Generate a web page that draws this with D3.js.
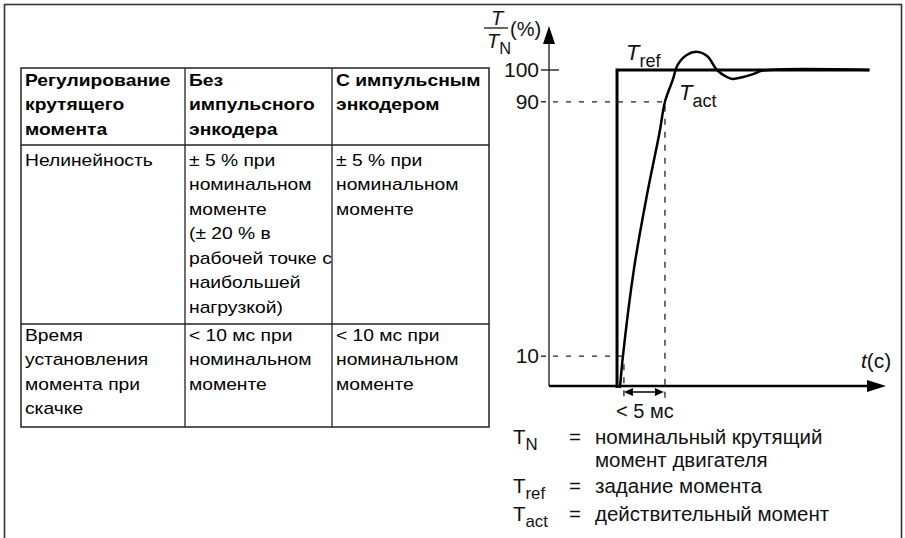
<!DOCTYPE html>
<html><head><meta charset="utf-8">
<script src="https://cdn.jsdelivr.net/npm/d3@7"></script>
<style>html,body{margin:0;padding:0;background:#fff;}svg{display:block;font-family:"Liberation Sans",Arial,sans-serif;}</style>
</head><body>
<script>
// ---- table data ----
const tableColumns = ["col1", "col2", "col3"];
const headerLines = [["Регулирование","крутящего","момента"],["Без","импульсного","энкодера"],["С импульсным","энкодером"]];
const row1Lines = [["Нелинейность"],["± 5 % при","номинальном","моменте","(± 20 % в","рабочей точке с","наибольшей","нагрузкой)"],["± 5 % при","номинальном","моменте"]];
const row2Lines = [["Время","установления","момента при","скачке"],["< 10 мс при","номинальном","моменте"],["< 10 мс при","номинальном","моменте"]];

// ---- chart data ----
const yTickValues = [10, 90, 100];
const yTickLabels = ["10", "90", "100"];
const trefTime = [8.3, 8.3, 39.1];
const trefValue = [0, 100, 100];
const tactTime = [8.66, 9.02, 10.4, 11.9, 13.5, 14.15, 15.1, 15.7, 16.8, 18.05, 19.3, 20.5, 21.7, 22.4, 23.7, 24.9, 26.1, 39.1];
const tactValue = [0, 10, 38, 60, 80.5, 90, 96.9, 101.6, 104.7, 105.7, 104.4, 100, 97.8, 97.2, 97.8, 98.7, 99.8, 100];
const t10 = 9.02, t90 = 14.15;
const settleLabel = "< 5 мс";
const legendItems = [
  {sym: "T", sub: "N", lines: ["номинальный крутящий", "момент двигателя"]},
  {sym: "T", sub: "ref", lines: ["задание момента"]},
  {sym: "T", sub: "act", lines: ["действительный момент"]}
];

const W = 905, H = 538;
const svg = d3.select("body").append("svg").attr("width", W).attr("height", H);

// outer frame
svg.append("rect").attr("x", 4.5).attr("y", 4.5).attr("width", 897).attr("height", 560)
  .attr("fill", "none").attr("stroke", "#333").attr("stroke-width", 1.6);

// ---- table ----
const colX = [21, 185, 332, 489];
const rowY = [68, 145, 324, 427];
const firstBase = [86, 166, 341];
const lineH = 24.5;
const sx = 1.16;
const tg = svg.append("g");
tg.append("rect").attr("x", colX[0]).attr("y", rowY[0]).attr("width", colX[3]-colX[0]).attr("height", rowY[3]-rowY[0])
  .attr("fill", "none").attr("stroke", "#222").attr("stroke-width", 1.5);
[1,2].forEach(i => tg.append("line").attr("x1", colX[i]).attr("x2", colX[i]).attr("y1", rowY[0]).attr("y2", rowY[3]).attr("stroke", "#222").attr("stroke-width", 1.3));
[1,2].forEach(i => tg.append("line").attr("x1", colX[0]).attr("x2", colX[3]).attr("y1", rowY[i]).attr("y2", rowY[i]).attr("stroke", "#222").attr("stroke-width", 1.3));
[headerLines, row1Lines, row2Lines].forEach((row, ri) => {
  row.forEach((lines, ci) => {
    const g = tg.append("g").attr("transform", `translate(${colX[ci] + 4},0) scale(${sx},1)`);
    lines.forEach((ln, li) => {
      g.append("text").attr("x", 0).attr("y", firstBase[ri] + li * lineH)
        .attr("font-size", 16.6).attr("font-weight", ri === 0 ? "bold" : "normal")
        .attr("fill", "#000").text(ln);
    });
  });
});

// ---- chart ----
const x = d3.scaleLinear().domain([0, 41]).range([549, 885]);
const y = d3.scaleLinear().domain([0, 100]).range([388, 70]);
const cg = svg.append("g");
const axisY0 = 386;

function dl(x1, y1, x2, y2, da) {
  cg.append("line").attr("x1", x1).attr("y1", y1).attr("x2", x2).attr("y2", y2)
    .attr("stroke", "#222").attr("stroke-width", 1.3).attr("stroke-dasharray", da || "5,8");
}
dl(x(0) + 4, y(90), x(t90), y(90));
dl(x(0) + 4, y(10), x(t10), y(10));
dl(x(t90), y(90) + 4, x(t90), axisY0 + 12, "6,7");
dl(x(t10) + 1, y(10) + 8, x(t10) + 1, axisY0 + 12, "6,7");

// y axis
cg.append("line").attr("x1", x(0)).attr("x2", x(0)).attr("y1", axisY0).attr("y2", 40)
  .attr("stroke", "#333").attr("stroke-width", 1.5);
cg.append("path").attr("d", `M${x(0)},26 L${x(0)-6},44 L${x(0)+6},44 Z`).attr("fill", "#000");
// x axis
cg.append("line").attr("x1", x(0)).attr("x2", 870).attr("y1", axisY0).attr("y2", axisY0)
  .attr("stroke", "#000").attr("stroke-width", 2.5);
cg.append("path").attr("d", `M886,${axisY0} L867,${axisY0-6} L867,${axisY0+6} Z`).attr("fill", "#000");

// ticks
yTickValues.forEach((v, i) => {
  const big = v === 100;
  cg.append("line").attr("x1", x(0) - 8).attr("x2", big ? x(0) + 10 : x(0) - 3)
    .attr("y1", y(v)).attr("y2", y(v)).attr("stroke", "#222").attr("stroke-width", 1.4);
  cg.append("text").attr("x", x(0) - 10).attr("y", y(v) + 7).attr("text-anchor", "end")
    .attr("font-size", 21).attr("fill", "#111").text(yTickLabels[i]);
});

// Tref
const line = d3.line().x(d => x(d[0])).y(d => y(d[1]));
cg.append("path").attr("d", line(trefTime.map((t, i) => [t, trefValue[i]])))
  .attr("fill", "none").attr("stroke", "#000").attr("stroke-width", 3).attr("stroke-linejoin", "miter");
// Tact
const curve = d3.line().x(d => x(d[0])).y(d => y(d[1])).curve(d3.curveCatmullRom.alpha(0.5));
cg.append("path").attr("d", curve(tactTime.map((t, i) => [t, tactValue[i]])))
  .attr("fill", "none").attr("stroke", "#000").attr("stroke-width", 2.5);

// double arrow
const ay = 392;
cg.append("line").attr("x1", x(t10) + 4).attr("x2", x(t90) - 4).attr("y1", ay).attr("y2", ay).attr("stroke", "#000").attr("stroke-width", 1.4);
cg.append("path").attr("d", `M${x(t10)+1},${ay} L${x(t10)+10},${ay-4} L${x(t10)+10},${ay+4} Z`).attr("fill", "#000");
cg.append("path").attr("d", `M${x(t90)-1},${ay} L${x(t90)-10},${ay-4} L${x(t90)-10},${ay+4} Z`).attr("fill", "#000");
cg.append("text").attr("x", (x(t10) + x(t90)) / 2 + 1).attr("y", 418).attr("text-anchor", "middle")
  .attr("font-size", 20).attr("fill", "#111").text(settleLabel);

// curve labels
function subLabel(xx, yy, main, sub, size, italic) {
  const t = cg.append("text").attr("x", xx).attr("y", yy).attr("font-size", size).attr("fill", "#111");
  t.append("tspan").attr("font-style", italic ? "italic" : "normal").text(main);
  t.append("tspan").attr("font-size", size * 0.82).attr("dy", size * 0.3).text(sub);
  return t;
}
subLabel(626, 60, "T", "ref", 22, true);
subLabel(679, 100, "T", "act", 22, true);

// y label fraction
cg.append("text").attr("x", 497).attr("y", 25).attr("text-anchor", "middle").attr("font-size", 20).attr("font-style", "italic").attr("fill", "#111").text("T");
cg.append("line").attr("x1", 484).attr("x2", 508).attr("y1", 28).attr("y2", 28).attr("stroke", "#111").attr("stroke-width", 1.3);
subLabel(487, 48, "T", "N", 20, true);
cg.append("text").attr("x", 510).attr("y", 36).attr("font-size", 20).attr("fill", "#111").text("(%)");

// t(c)
const tl = cg.append("text").attr("x", 861).attr("y", 368).attr("font-size", 21).attr("fill", "#111");
tl.append("tspan").attr("font-style", "italic").text("t");
tl.append("tspan").text("(c)");

// legend
const legBase = [444, 493, 521];
legendItems.forEach((it, i) => {
  const b = legBase[i];
  subLabel(513, b, it.sym, it.sub, 20.5, false);
  cg.append("text").attr("x", 569).attr("y", b).attr("font-size", 20.5).attr("fill", "#111").text("=");
  it.lines.forEach((ln, j) => {
    cg.append("text").attr("x", 595).attr("y", b + j * 22.5).attr("font-size", 20.5).attr("fill", "#111").text(ln);
  });
});
</script>
</body></html>
